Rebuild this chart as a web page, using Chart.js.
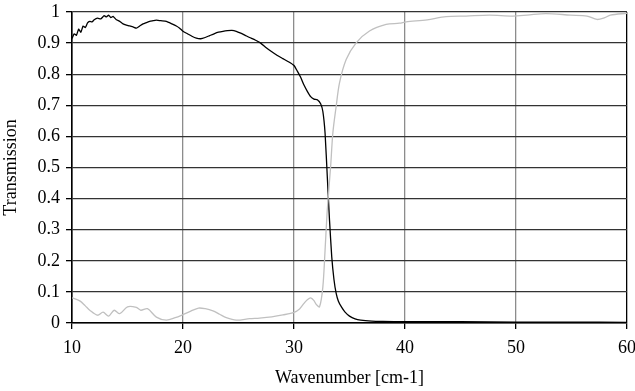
<!DOCTYPE html>
<html>
<head>
<meta charset="utf-8">
<script src="https://cdn.jsdelivr.net/npm/chart.js@4"></script>
<style>
  html, body { margin: 0; padding: 0; background: #fff; }
  #wrap { width: 635px; height: 391px; }
</style>
</head>
<body>
<div id="wrap"><canvas id="chart" width="635" height="391"></canvas></div>
<script>
// black curve (transmission falling at ~33 cm-1)
const blackX = [10, 10.2, 10.4, 10.6, 10.8, 11.0, 11.2, 11.4, 11.6, 11.8, 12.0, 12.3, 12.6, 12.9, 13.1, 13.3, 13.5, 13.7, 14.0, 14.3, 14.6, 14.9, 15.2, 15.5, 15.8, 16.1, 16.4, 16.7, 17.0, 17.3, 17.6, 18.0, 18.5, 19.0, 19.4, 19.7, 20.0, 20.4, 20.8, 21.2, 21.6, 22.0, 22.4, 22.8, 23.2, 23.6, 24.0, 24.4, 24.8, 25.2, 25.6, 26.0, 26.5, 27.0, 27.5, 28.0, 28.5, 29.0, 29.5, 30.0, 30.3, 30.6, 30.9, 31.2, 31.5, 31.8, 32.1, 32.4, 32.6, 32.8, 33.0, 33.2, 33.4, 33.6, 33.8, 34.0, 34.3, 34.6, 35.0, 35.5, 36.0, 37, 38, 40, 45, 50, 55, 60];
const blackY = [0.915, 0.93, 0.925, 0.945, 0.935, 0.955, 0.95, 0.965, 0.97, 0.968, 0.975, 0.98, 0.978, 0.988, 0.984, 0.99, 0.982, 0.986, 0.975, 0.97, 0.962, 0.958, 0.955, 0.952, 0.948, 0.955, 0.962, 0.966, 0.97, 0.972, 0.974, 0.972, 0.97, 0.962, 0.955, 0.948, 0.938, 0.93, 0.922, 0.916, 0.914, 0.918, 0.924, 0.93, 0.935, 0.938, 0.94, 0.941, 0.938, 0.932, 0.925, 0.918, 0.91, 0.9, 0.885, 0.872, 0.86, 0.85, 0.84, 0.828, 0.81, 0.79, 0.765, 0.745, 0.728, 0.72, 0.718, 0.705, 0.68, 0.61, 0.47, 0.33, 0.213, 0.14, 0.095, 0.07, 0.05, 0.035, 0.022, 0.013, 0.009, 0.006, 0.005, 0.004, 0.004, 0.003, 0.003, 0.002];

// gray curve (transmission rising at ~33 cm-1)
const grayX = [10, 10.7, 11.2, 11.6, 12.3, 12.8, 13.3, 13.8, 14.3, 15.0, 15.8, 16.2, 16.8, 17.6, 18.5, 19.3, 20.0, 20.7, 21.4, 22.0, 22.7, 23.3, 23.9, 24.8, 26.0, 26.9, 28.0, 29.0, 30.0, 30.5, 30.9, 31.2, 31.5, 31.8, 32.0, 32.3, 32.6, 32.8, 33.0, 33.3, 33.5, 33.8, 34.1, 34.7, 35.6, 36.8, 38.3, 39.5, 40.1, 42, 43.7, 45.5, 47.6, 49.7, 51, 52.7, 54.9, 56.4, 57.3, 58.0, 58.5, 60];
const grayY = [0.081, 0.071, 0.055, 0.041, 0.025, 0.035, 0.022, 0.041, 0.030, 0.052, 0.050, 0.041, 0.046, 0.019, 0.009, 0.017, 0.027, 0.038, 0.048, 0.046, 0.039, 0.028, 0.017, 0.009, 0.014, 0.016, 0.020, 0.026, 0.034, 0.045, 0.063, 0.075, 0.081, 0.072, 0.060, 0.052, 0.116, 0.235, 0.364, 0.503, 0.611, 0.697, 0.772, 0.847, 0.901, 0.939, 0.960, 0.964, 0.968, 0.975, 0.985, 0.987, 0.99, 0.987, 0.99, 0.995, 0.99, 0.987, 0.976, 0.982, 0.99, 0.996];

const xMin = 10, xMax = 60, xStep = 10;
const yMin = 0, yMax = 1, yStep = 0.1;

const toPoints = (xs, ys) => xs.map((x, i) => ({ x: x, y: ys[i] }));

const font = { family: "'Liberation Serif', 'Times New Roman', serif", size: 18 };

new Chart(document.getElementById('chart'), {
  type: 'line',
  data: {
    datasets: [
      {
        label: 'gray',
        data: toPoints(grayX, grayY),
        borderColor: '#c0c0c0',
        borderWidth: 1.3,
        pointRadius: 0,
        tension: 0.3
      },
      {
        label: 'black',
        data: toPoints(blackX, blackY),
        borderColor: '#000000',
        borderWidth: 1.3,
        pointRadius: 0,
        tension: 0.15
      }
    ]
  },
  options: {
    responsive: false,
    animation: false,
    layout: { padding: { top: 12, right: 8, left: 0, bottom: 0 } },
    plugins: {
      legend: { display: false },
      tooltip: { enabled: false }
    },
    scales: {
      x: {
        type: 'linear',
        min: xMin,
        max: xMax,
        ticks: { stepSize: xStep, color: '#000', font: font, padding: 8 },
        grid: {
          color: ctx => (ctx.tick && (ctx.tick.value === xMin || ctx.tick.value === xMax)) ? '#000' : '#8c8c8c',
          lineWidth: 1.3,
          tickLength: 6,
          tickColor: '#000'
        },
        border: { color: '#000', width: 1.5 },
        title: { display: true, text: 'Wavenumber [cm-1]', color: '#000', font: font, padding: { top: 2, bottom: 2 } },
        afterFit: s => { s.height = 68; s.paddingLeft = 0; s.paddingRight = 0; }
      },
      y: {
        min: yMin,
        max: yMax,
        ticks: {
          stepSize: yStep, color: '#000', font: font, padding: 6,
          callback: v => String(Math.round(v * 10) / 10)
        },
        grid: {
          color: '#333',
          lineWidth: 1.3,
          tickLength: 6,
          tickColor: '#000'
        },
        border: { color: '#000', width: 1.5 },
        title: { display: true, text: 'Transmission', color: '#000', font: font, padding: { top: 0, bottom: 0 } },
        afterFit: s => { s.width = 72; s.paddingTop = 0; s.paddingBottom = 0; }
      }
    }
  }
});
</script>
</body>
</html>
